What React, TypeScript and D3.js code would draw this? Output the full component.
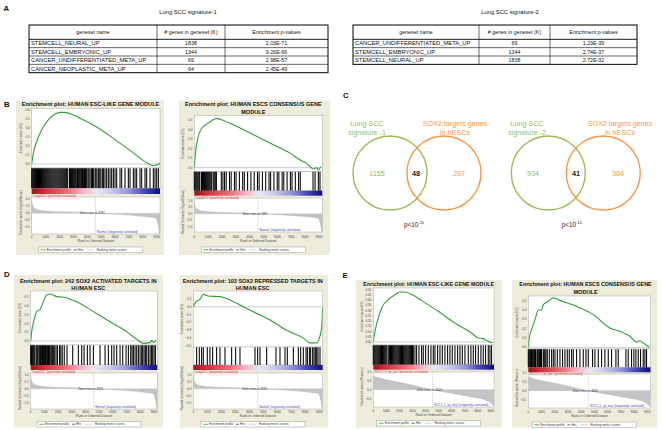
import React from 'react';
import * as d3 from 'd3';

const FONT = "'Liberation Sans', Arial, Helvetica, sans-serif";

// ---------- Panel A data ----------
const tableHeaders = ['geneset name', '# genes in geneset (K)', 'Enrichment p-values'];
const table1Names = ['STEMCELL_NEURAL_UP', 'STEMCELL_EMBRYONIC_UP', 'CANCER_UNDIFFERENTIATED_META_UP', 'CANCER_NEOPLASTIC_META_UP'];
const table1K = [1838, 1344, 69, 64];
const table1P = ['2.03E-71', '9.26E-66', '2.98E-57', '2.45E-49'];
const table2Names = ['CANCER_UNDIFFERENTIATED_META_UP', 'STEMCELL_EMBRYONIC_UP', 'STEMCELL_NEURAL_UP'];
const table2K = [69, 1344, 1838];
const table2P = ['1.23E-39', '2.74E-37', '2.72E-32'];

// ---------- Panel C data ----------
const venn1Counts = [1155, 48, 297];
const venn2Counts = [934, 41, 304];
const venn1Left = ['Lung SCC', 'signature -1'];
const venn2Left = ['Lung SCC', 'signature -2'];
const vennRight = ['SOX2 targets genes', 'in hESCs'];
const venn1PExp = '-16';
const venn2PExp = '-14';

// ---------- GSEA data ----------
const rankTicks = [0, 1000, 2000, 3000, 4000, 5000, 6000, 7000, 8000, 9000];
const RANK_MAX = 9240;

const esB1Ranks = [0, 120, 360, 720, 1200, 1680, 2040, 2400, 3000, 3600, 4800, 6000, 7200, 8160, 8760, 9000, 9240];
const esB1Vals = [0.0, 0.12, 0.25, 0.38, 0.49, 0.556, 0.574, 0.574, 0.544, 0.5, 0.4, 0.27, 0.137, 0.026, -0.018, -0.011, 0.007];
const esB2Ranks = [0, 95, 285, 523, 998, 1473, 1591, 2185, 3373, 4560, 5748, 6935, 7648, 8123, 8598, 8836, 8955, 9120];
const esB2Vals = [0.0, 0.168, 0.325, 0.41, 0.465, 0.51, 0.517, 0.49, 0.41, 0.325, 0.238, 0.15, 0.08, 0.045, -0.014, 0.0, -0.024, 0.01];
const esD1Ranks = [0, 73, 243, 438, 681, 925, 1168, 1411, 1898, 2506, 2871, 3358, 4574, 5791, 7007, 7737, 8224, 8710, 8832, 9000, 9148];
const esD1Vals = [0.0, 0.107, 0.24, 0.336, 0.36, 0.45, 0.527, 0.538, 0.508, 0.5, 0.477, 0.45, 0.336, 0.221, 0.107, 0.019, -0.027, -0.019, 0.004, -0.019, 0.011];
const esD2Ranks = [0, 190, 476, 714, 1071, 1905, 2262, 3095, 4286, 5476, 6667, 7857, 8333, 8810, 9000, 9167, 9240];
const esD2Vals = [0.0, 0.064, 0.094, 0.157, 0.136, 0.128, 0.11, 0.043, -0.064, -0.17, -0.3, -0.4, -0.46, -0.46, -0.4, -0.26, 0.0];
const esE1Ranks = [0, 128, 383, 638, 1148, 1658, 2041, 2423, 3061, 3699, 4974, 6250, 7526, 8036, 8418, 8801, 9133];
const esE1Vals = [0.0, 0.1, 0.23, 0.325, 0.404, 0.452, 0.478, 0.478, 0.446, 0.395, 0.293, 0.18, 0.086, 0.038, 0.032, 0.006, -0.01];
const esE2Ranks = [0, 76, 252, 504, 756, 1008, 1134, 1512, 1890, 2394, 3655, 4916, 6176, 6933, 7689, 8193, 8445, 8697, 9150];
const esE2Vals = [0.0, 0.1, 0.19, 0.296, 0.4, 0.4, 0.457, 0.493, 0.53, 0.503, 0.44, 0.35, 0.207, 0.171, 0.118, 0.057, 0.071, 0.046, 0.0];

const s2nRanks = [0, 60, 240, 600, 1200, 2400, 3600, 4591, 6000, 7200, 7920, 8500, 8880, 9000, 9070, 9140, 9200, 9240];
const s2nVals = [0.95, 0.6, 0.33, 0.22, 0.15, 0.1, 0.06, 0.0, -0.075, -0.15, -0.22, -0.28, -0.33, -0.45, -0.7, -1.0, -1.5, -2.0];
const pearsonRanks = [0, 300, 1148, 2423, 3699, 4541, 6250, 7526, 8801, 9150, 9240];
const pearsonVals = [0.78, 0.7, 0.55, 0.36, 0.14, 0.0, -0.24, -0.42, -0.65, -0.85, -0.9];

const hitsB1 = '0 70 140 210 280 350 420 490 560 630 700 770 840 910 980 1050 1120 1190 1260 1330 1400 1470 1540 1610 1680 1750 1820 1890 1960 2030 2100 2170 2240 2310 2380 2450 2520 2590 2720 2790 2860 2930 3000 3070 3140 3210 3300 3360 3420 3480 3540 3600 3660 3720 3800 3880 3960 4050 4120 4200 4300 4380 4440 4560 4620 4700 4800 4900 4980 5088 5180 5280 5400 5520 5640 5760 5880 6000 6120 6360 6480 6720 6960 7080 7320 7440 7560 7800 7920 8160 8280 8520 8760 8880 9000 9120';
const hitsB2 = '0 70 140 210 280 350 400 523 590 660 730 800 870 940 1010 1080 1150 1230 1354 1420 1490 1560 1591 1948 2066 2185 2304 2541 2660 2898 3017 3254 3492 3610 3848 4086 4323 4560 4679 4917 5154 5392 5511 5748 5986 6104 6342 6461 6698 6936 7055 7292 7530 7648 8570 8717 8955 9074';
const hitsD1 = '0 60 120 180 240 300 400 460 520 600 660 720 800 860 940 1000 1080 1140 1220 1300 1360 1420 1500 1580 1650 1750 1850 1950 2100 2200 2300 2450 2650 3066 3479 3723 3893 4136 4331 4574 5061 5426 5669 5912 6083 6277 6521 6715 6959 7129 7299 7397 7494 7616 7737 7859 7981 8102 8175 8273 8370 8467 8589 8710 8808 8905 9002 9100';
const hitsD2 = '238 429 595 714 1000 1190 1381 1667 1905 2262 2738 3024 3333 4405 4595 4762 5238 5905 6190 6548 6714 7143 7500 7667 7857 8048 8143 8286 8381 8524 8619 8714 8810 8905 9048';
const hitsE1 = '0 70 140 210 280 350 420 490 560 630 700 770 840 910 980 1050 1180 1250 1320 1390 1460 1530 1600 1670 1740 1810 1880 1950 2020 2090 2160 2230 2300 2370 2440 2510 2580 2650 2720 2790 2860 2930 3000 3060 3189 3316 3495 3699 3827 4005 4209 4413 4592 4719 4923 5102 5281 5485 5689 5867 6046 6250 6454 6633 6811 7015 7270 7474 7653 7832 8036 8240 8418 8597 8801 8929 9056';
const hitsE2 = '0 60 120 180 240 300 360 420 480 540 579 680 740 800 860 920 980 1008 1134 1200 1270 1335 1436 1587 1763 1889 2015 2191 2393 2594 2771 2947 3098 3275 3401 3652 3904 4156 4358 4534 4861 5038 5290 5542 5793 6045 6297 6625 6801 7380 7557 7809 7985 8136 8312 8489 8690 8816 8942';

const barStops: [number, string][] = [
  [0, '#9a1424'], [0.1, '#cf2e3a'], [0.28, '#ec6e7e'], [0.4, '#f3b2c6'], [0.5, '#ece6f2'],
  [0.6, '#d0d0ee'], [0.75, '#9898dc'], [0.88, '#4646b6'], [1, '#0e0e78'],
];

const parseHits = (s: string) => s.trim().split(/\s+/).map(Number);

type Cfg = {
  id: string;
  box: [number, number, number, number];
  title: string[];
  titleX: number;
  titleW: number;
  titleY: number;
  plotX: [number, number];
  esTop: number; esBottom: number; hitsBottom: number; barBottom: number;
  metricTop: number; metricBottom: number; legendY: number;
  esDomain: [number, number]; esTicks: number[]; esFmt: string;
  esRanks: number[]; esVals: number[]; hits: string;
  mRanks: number[]; mVals: number[]; mDomain: [number, number]; mTicks: number[];
  zero: number; mName: string; pos: string; neg: string;
};

const GREEN = '#2f9e3a';

function Gsea({ c }: { c: Cfg }) {
  const [bx0, by0, bx1, by1] = c.box;
  const [px0, px1] = c.plotX;
  const x = d3.scaleLinear().domain([0, RANK_MAX]).range([px0, px1]);
  const yEs = d3.scaleLinear().domain(c.esDomain).range([c.esBottom, c.esTop]);
  const yM = d3.scaleLinear().domain(c.mDomain).range([c.metricBottom, c.metricTop]);
  const esPts: [number, number][] = c.esRanks.map((r, i) => [r, c.esVals[i]]);
  const esPath = d3.line<[number, number]>().x(d => x(d[0])).y(d => yEs(d[1])).curve(d3.curveMonotoneX)(esPts) || '';
  const mPts: [number, number][] = c.mRanks.map((r, i) => [r, Math.max(c.mDomain[0], c.mVals[i])]);
  const mPath = d3.area<[number, number]>().x(d => x(d[0])).y0(yM(0)).y1(d => yM(d[1])).curve(d3.curveMonotoneX)(mPts) || '';
  const hits = parseHits(c.hits);
  const fmt = d3.format(c.esFmt);
  const mfmt = d3.format('.1f');
  const legW = 104;
  const L = (px0 + px1) / 2 - 5 - legW / 2;
  const ly = c.legendY;
  return (
    <g>
      <defs>
        <clipPath id={`es-${c.id}`}><rect x={px0} y={c.esTop} width={px1 - px0} height={c.esBottom - c.esTop} /></clipPath>
        <clipPath id={`m-${c.id}`}><rect x={px0} y={c.metricTop} width={px1 - px0} height={c.metricBottom - c.metricTop} /></clipPath>
      </defs>
      <rect x={bx0} y={by0} width={bx1 - bx0} height={by1 - by0} fill="#edebd9" />
      {c.title.map((t, i) => (
        <text key={i} x={c.titleX} y={c.titleY + i * 7.8} textAnchor="middle" fontSize={5.6} fontWeight="bold" fill="#111"
          {...(i === 0 ? { textLength: c.titleW, lengthAdjust: 'spacingAndGlyphs' } : {})}>{t}</text>
      ))}
      {/* ES plot */}
      <rect x={px0} y={c.esTop} width={px1 - px0} height={c.esBottom - c.esTop} fill="#fff" stroke="#999" strokeWidth={0.4} />
      <line x1={px0} x2={px1} y1={yEs(0)} y2={yEs(0)} stroke="#999" strokeWidth={0.5} />
      <path d={esPath} fill="none" stroke={GREEN} strokeWidth={1.1} clipPath={`url(#es-${c.id})`} />
      {c.esTicks.map(t => (
        <text key={t} x={px0 - 2} y={yEs(t) + 1} textAnchor="end" fontSize={3} fill="#444">{fmt(t)}</text>
      ))}
      <text transform={`translate(${px0 - 10},${(c.esTop + c.esBottom) / 2}) rotate(-90)`} textAnchor="middle" fontSize={3} fill="#555">Enrichment score (ES)</text>
      {/* hits */}
      <rect x={px0} y={c.esBottom} width={px1 - px0} height={c.hitsBottom - c.esBottom} fill="#fff" stroke="#999" strokeWidth={0.4} />
      {hits.map((h, i) => (
        <line key={i} x1={x(h)} x2={x(h)} y1={c.esBottom + 0.3} y2={c.hitsBottom} stroke="#000" strokeWidth={1.05} />
      ))}
      {/* colour bar */}
      <rect x={px0} y={c.hitsBottom} width={px1 - px0} height={c.barBottom - c.hitsBottom} fill="url(#rankbar)" />
      <line x1={px1} x2={px1 + 1.5} y1={c.hitsBottom} y2={c.hitsBottom} stroke="#999" strokeWidth={0.4} />
      <line x1={px1} x2={px1 + 1.5} y1={c.barBottom} y2={c.barBottom} stroke="#999" strokeWidth={0.4} />
      {/* metric */}
      <rect x={px0} y={c.metricTop} width={px1 - px0} height={c.metricBottom - c.metricTop} fill="#fff" stroke="#999" strokeWidth={0.4} />
      <path d={mPath} fill="#c4c4c4" stroke="#b0b0b0" strokeWidth={0.3} clipPath={`url(#m-${c.id})`} />
      <line x1={x(c.zero)} x2={x(c.zero)} y1={c.metricTop} y2={c.metricBottom} stroke="#888" strokeWidth={0.4} strokeDasharray="1,1" />
      <text x={x(c.zero) - 3} y={yM(0) + 1} textAnchor="middle" fontSize={3} fill="#222">{`Zero cross at ${c.zero}`}</text>
      <text x={px0 + 1} y={c.barBottom + 3} fontSize={3} fill="#e03a3a">{c.pos}</text>
      <text x={x(c.zero) + 1} y={c.metricBottom - 1.3} fontSize={3} fill="#4444c0">{c.neg}</text>
      {c.mTicks.map(t => (
        <text key={t} x={px0 - 2} y={yM(t) + 1} textAnchor="end" fontSize={3} fill="#444">{mfmt(t)}</text>
      ))}
      <text transform={`translate(${px0 - 10},${(c.metricTop + c.metricBottom) / 2 - 3}) rotate(-90)`} textAnchor="middle" fontSize={3} fill="#555">{`Ranked list metric (${c.mName})`}</text>
      {rankTicks.map(t => (
        <text key={t} x={x(t)} y={ly - 9} textAnchor="middle" fontSize={3} fill="#444">{t}</text>
      ))}
      <text x={(px0 + px1) / 2} y={ly - 4.8} textAnchor="middle" fontSize={3.3} fill="#444">Rank in Ordered Dataset</text>
      {/* legend */}
      <rect x={L} y={ly} width={legW} height={5.5} fill="#fff" stroke="#888" strokeWidth={0.4} />
      <line x1={L + 2} x2={L + 7} y1={ly + 2.75} y2={ly + 2.75} stroke={GREEN} strokeWidth={0.8} />
      <text x={L + 8} y={ly + 3.8} fontSize={3} fill="#333">Enrichment profile</text>
      <line x1={L + 35} x2={L + 38} y1={ly + 2.75} y2={ly + 2.75} stroke="#000" strokeWidth={0.6} />
      <text x={L + 39} y={ly + 3.8} fontSize={3} fill="#333">Hits</text>
      <line x1={L + 48} x2={L + 55} y1={ly + 2.75} y2={ly + 2.75} stroke="#bbb" strokeWidth={0.6} />
      <text x={L + 58} y={ly + 3.8} fontSize={3} fill="#333">Ranking metric scores</text>
    </g>
  );
}

function GeneTable({ x0, x1, cols, top, headBottom, rowH, names, ks, ps }:
  { x0: number; x1: number; cols: number[]; top: number; headBottom: number; rowH: number; names: string[]; ks: number[]; ps: string[] }) {
  const bottom = headBottom + rowH * names.length;
  const y = d3.scaleBand<number>().domain(names.map((_, i) => i)).range([headBottom, bottom]);
  const edges = [x0, ...cols, x1];
  const centers = edges.slice(0, -1).map((e, i) => (e + edges[i + 1]) / 2);
  return (
    <g>
      <rect x={x0} y={top} width={x1 - x0} height={bottom - top} fill="#fff" stroke="#000" strokeWidth={1} />
      {cols.map(cx => <line key={cx} x1={cx} x2={cx} y1={top} y2={bottom} stroke="#000" strokeWidth={0.6} />)}
      <line x1={x0} x2={x1} y1={headBottom} y2={headBottom} stroke="#000" strokeWidth={0.9} />
      {names.slice(1).map((_, i) => (
        <line key={i} x1={x0} x2={x1} y1={y(i + 1)!} y2={y(i + 1)!} stroke="#000" strokeWidth={0.6} />
      ))}
      {tableHeaders.map((h, i) => (
        <text key={h} x={centers[i]} y={(top + headBottom) / 2 + 2} textAnchor="middle" fontSize={5.3} fill="#111">{h}</text>
      ))}
      {names.map((n, i) => (
        <g key={n}>
          <text x={x0 + 2} y={y(i)! + rowH / 2 + 2} fontSize={5.8} fill="#111">{n}</text>
          <text x={centers[1]} y={y(i)! + rowH / 2 + 2} textAnchor="middle" fontSize={5.3} fill="#111">{ks[i]}</text>
          <text x={centers[2]} y={y(i)! + rowH / 2 + 2} textAnchor="middle" fontSize={5.3} fill="#111">{ps[i]}</text>
        </g>
      ))}
    </g>
  );
}

const VGREEN = '#9bbb59';
const VORANGE = '#f79646';

function Venn({ gx, ox, cy, r, leftX, rightX, countX, pX, counts, left, pExp }:
  { gx: number; ox: number; cy: number; r: number; leftX: number; rightX: number; countX: number[]; pX: number; counts: number[]; left: string[]; pExp: string }) {
  return (
    <g>
      <circle cx={gx} cy={cy} r={r} fill="none" stroke={VGREEN} strokeWidth={1.4} />
      <circle cx={ox} cy={cy} r={r} fill="none" stroke={VORANGE} strokeWidth={1.4} />
      {left.map((t, i) => <text key={t} x={leftX} y={125.5 + i * 9} textAnchor="middle" fontSize={7.2} fill={VGREEN}>{t}</text>)}
      {vennRight.map((t, i) => <text key={t} x={rightX} y={125.5 + i * 9} textAnchor="middle" fontSize={7.2} fill={VORANGE}>{t}</text>)}
      <text x={countX[0]} y={cy + 2.7} textAnchor="middle" fontSize={7.3} fill={VGREEN}>{counts[0]}</text>
      <text x={countX[1]} y={cy + 2.7} textAnchor="middle" fontSize={7.3} fontWeight="bold" fill="#222">{counts[1]}</text>
      <text x={countX[2]} y={cy + 2.7} textAnchor="middle" fontSize={7.3} fill={VORANGE}>{counts[2]}</text>
      <text x={pX} y={227} fontSize={6.4} fill="#222">p&lt;10<tspan dy={-2.6} fontSize={3.8}>{pExp}</tspan></text>
    </g>
  );
}

const sharedB = { mRanks: s2nRanks, mVals: s2nVals, mTicks: [1, 0.5, 0, -0.5, -1], zero: 4591, mName: 'Signal2Noise', pos: "'LungSCC' (positively correlated)", neg: "'Normal' (negatively correlated)" };
const sharedE = { mRanks: pearsonRanks, mVals: pearsonVals, mTicks: [1, 0.5, 0, -0.5], zero: 4541, mName: 'Pearson', pos: "'SCC2_1_up_pos' (positively correlated)", neg: "'SCC2_1_up_neg' (negatively correlated)" };

const panels: Cfg[] = [
  {
    id: 'b1', box: [16, 100.5, 164, 255], title: ['Enrichment plot: HUMAN ESC-LIKE GENE MODULE'], titleX: 90.5, titleW: 137.6, titleY: 106.3,
    plotX: [31.7, 160], esTop: 108.5, esBottom: 168, hitsBottom: 188.3, barBottom: 194, metricTop: 197, metricBottom: 234, legendY: 247,
    esDomain: [-0.045, 0.617], esTicks: [0, 0.1, 0.2, 0.3, 0.4, 0.5, 0.6], esFmt: '.1f', esRanks: esB1Ranks, esVals: esB1Vals, hits: hitsB1,
    mDomain: [-1.48, 1.16], ...sharedB,
  },
  {
    id: 'b2', box: [179, 100.5, 330, 255], title: ['Enrichment plot: HUMAN ESCS CONSENSUS GENE', 'MODULE'], titleX: 253.3, titleW: 136.7, titleY: 106.3,
    plotX: [194.3, 322.3], esTop: 115.7, esBottom: 171.5, hitsBottom: 190.7, barBottom: 195.7, metricTop: 198, metricBottom: 232, legendY: 247,
    esDomain: [-0.04, 0.545], esTicks: [0, 0.1, 0.2, 0.3, 0.4, 0.5], esFmt: '.1f', esRanks: esB2Ranks, esVals: esB2Vals, hits: hitsB2,
    mDomain: [-1.42, 1.23], ...sharedB,
  },
  {
    id: 'd1', box: [14, 275, 163, 427.5], title: ['Enrichment plot: 242 SOX2 ACTIVATED TARGETS IN', 'HUMAN ESC'], titleX: 88.3, titleW: 136.7, titleY: 282.5,
    plotX: [30.7, 157.3], esTop: 291, esBottom: 345, hitsBottom: 365, barBottom: 370, metricTop: 373, metricBottom: 409, legendY: 421.5,
    esDomain: [-0.046, 0.572], esTicks: [0, 0.1, 0.2, 0.3, 0.4, 0.5], esFmt: '.1f', esRanks: esD1Ranks, esVals: esD1Vals, hits: hitsD1,
    mDomain: [-1.46, 1.14], ...sharedB,
  },
  {
    id: 'd2', box: [180, 275, 328, 427.5], title: ['Enrichment plot: 103 SOX2 REPRESSED TARGETS IN', 'HUMAN ESC'], titleX: 252.7, titleW: 140, titleY: 282.5,
    plotX: [193.3, 322.7], esTop: 291, esBottom: 347, hitsBottom: 365, barBottom: 370, metricTop: 373, metricBottom: 409, legendY: 421.5,
    esDomain: [-0.513, 0.2], esTicks: [0.1, 0, -0.1, -0.2, -0.3, -0.4, -0.5], esFmt: '.1f', esRanks: esD2Ranks, esVals: esD2Vals, hits: hitsD2,
    mDomain: [-1.46, 1.14], ...sharedB,
  },
  {
    id: 'e1', box: [356, 280, 502, 427.5], title: ['Enrichment plot: HUMAN ESC-LIKE GENE MODULE'], titleX: 428.7, titleW: 130.7, titleY: 285.8,
    plotX: [373.3, 494], esTop: 288, esBottom: 345, hitsBottom: 364.7, barBottom: 369.7, metricTop: 372, metricBottom: 407, legendY: 420.5,
    esDomain: [-0.029, 0.516], esTicks: [0, 0.05, 0.1, 0.15, 0.2, 0.25, 0.3, 0.35, 0.4, 0.45, 0.5], esFmt: '.2f', esRanks: esE1Ranks, esVals: esE1Vals, hits: hitsE1,
    mDomain: [-0.98, 1.0], ...sharedE,
  },
  {
    id: 'e2', box: [512, 280, 657, 427.5], title: ['Enrichment plot: HUMAN ESCS CONSENSUS GENE', 'MODULE'], titleX: 585.5, titleW: 132.3, titleY: 285.8,
    plotX: [528.3, 650.5], esTop: 296, esBottom: 349, hitsBottom: 367.3, barBottom: 372.3, metricTop: 374, metricBottom: 408, legendY: 422,
    esDomain: [-0.018, 0.55], esTicks: [0, 0.1, 0.2, 0.3, 0.4, 0.5], esFmt: '.1f', esRanks: esE2Ranks, esVals: esE2Vals, hits: hitsE2,
    mDomain: [-0.98, 0.94], ...sharedE,
  },
];

export default function App() {
  return (
    <svg width={661} height={430} style={{ position: 'absolute', left: 0, top: 0, display: 'block' }} fontFamily={FONT}>
      <defs>
        <linearGradient id="rankbar" x1="0" x2="1" y1="0" y2="0">
          {barStops.map(([o, col]) => <stop key={o} offset={o} stopColor={col} />)}
        </linearGradient>
      </defs>
      <rect width={661} height={430} fill="#fff" />
      {/* letters */}
      <text x={3.5} y={10.5} fontSize={7.8} fontWeight="bold" fill="#111">A</text>
      <text x={4} y={106.5} fontSize={7.8} fontWeight="bold" fill="#111">B</text>
      <text x={343} y={97.5} fontSize={7.8} fontWeight="bold" fill="#111">C</text>
      <text x={4} y={277} fontSize={7.8} fontWeight="bold" fill="#111">D</text>
      <text x={342.5} y={277.5} fontSize={7.8} fontWeight="bold" fill="#111">E</text>
      {/* A */}
      <text x={188} y={14} textAnchor="middle" fontSize={5.8} fill="#111">Lung SCC signature-1</text>
      <text x={510} y={14} textAnchor="middle" fontSize={5.8} fill="#111">Lung SCC signature-2</text>
      <GeneTable x0={29} x1={328} cols={[157, 225]} top={25} headBottom={39.3} rowH={8.35} names={table1Names} ks={table1K} ps={table1P} />
      <GeneTable x0={353} x1={637} cols={[479, 550]} top={25} headBottom={39.3} rowH={8.35} names={table2Names} ks={table2K} ps={table2P} />
      {/* B, D, E */}
      {panels.map(p => <Gsea key={p.id} c={p} />)}
      {/* C */}
      <Venn gx={390} ox={444} cy={173} r={37} leftX={367} rightX={455} countX={[377, 416, 459]} pX={404} counts={venn1Counts} left={venn1Left} pExp={venn1PExp} />
      <Venn gx={548.3} ox={603.3} cy={173} r={37} leftX={527} rightX={620} countX={[533, 576, 618]} pX={561.7} counts={venn2Counts} left={venn2Left} pExp={venn2PExp} />
    </svg>
  );
}
